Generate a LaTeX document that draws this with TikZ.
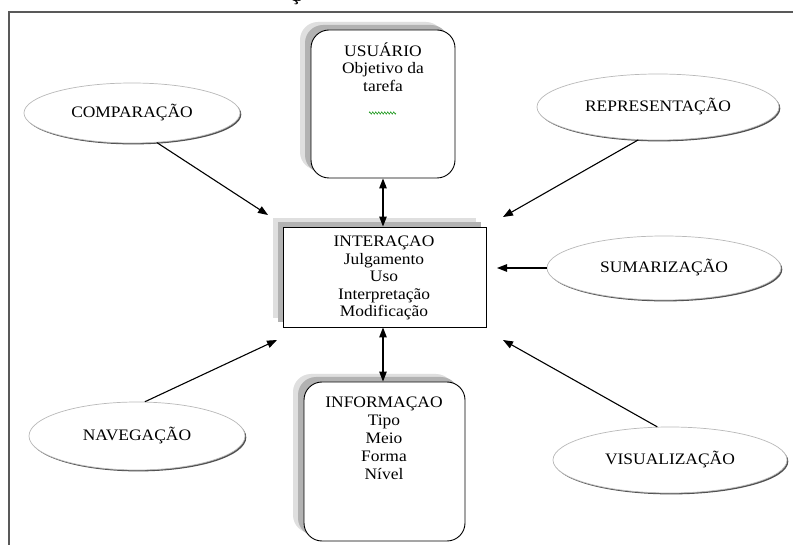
\documentclass[tikz,border=0pt]{standalone}
\usepackage{fontspec}
\setmainfont{Liberation Serif}[FakeStretch=1.09]
\usetikzlibrary{arrows.meta,shapes.geometric,shadows,decorations.pathmorphing}

\begin{document}
\begin{tikzpicture}[x=1pt,y=-1pt,
  every node/.style={font=\fontsize{16}{17.5}\selectfont, text=black},
  topic/.style={ellipse, draw=gray!55, line width=0.7pt, fill=white, inner sep=0pt,
    drop shadow={shadow xshift=1.3pt, shadow yshift=-1.4pt, fill=black!80, opacity=0.85}},
  panel/.style={draw=black, line width=0.9pt, fill=white, rounded corners=18pt, inner sep=0pt,
    general shadow={shadow xshift=-11pt, shadow yshift=8pt, fill=gray!25},
    general shadow={shadow xshift=-6pt, shadow yshift=5pt, fill=gray!60}},
  core/.style={draw=black, line width=0.9pt, fill=white, inner sep=0pt,
    general shadow={shadow xshift=-10pt, shadow yshift=9pt, fill=gray!25},
    general shadow={shadow xshift=-5pt, shadow yshift=5pt, fill=gray!60}},
  link/.style={draw=black, line width=1.1pt, -{Triangle[length=10pt,width=7.5pt]}},
  both/.style={draw=black, line width=1.1pt,
    {Triangle[length=10pt,width=7.5pt]}-{Triangle[length=10pt,width=7.5pt]}},
  frame/.style={draw=black!65, line width=1.4pt}
]
\clip (0,0) rectangle (793,545);
\fill[white] (0,0) rectangle (793,545);

% page frame and the cut heading glyph above it
\node[font=\bfseries\fontsize{16}{16}\selectfont, anchor=base] (head) at (296,1.5) {Ç};
\draw[frame] (9,545) -- (9,12) -- (793,12);

% central boxes
\node[panel, minimum width=144pt, minimum height=148pt] (usu) at (383,104) {};
\node[align=center] (usutxt) at (383,67) {USUÁRIO\\Objetivo da\\tarefa};
\draw[green!55!black, line width=0.5pt, decorate,
  decoration={zigzag, segment length=3pt, amplitude=1.2pt}] (369,113) -- (396,113);

\node[core, minimum width=203pt, minimum height=100pt] (int) at (384.5,277) {};
\node[align=center] (inttxt) at (384,278.3)
  {INTERAÇAO\\Julgamento\\Uso\\Interpretação\\Modificação};

\node[panel, minimum width=161pt, minimum height=159pt] (inf) at (384.5,461.5) {};
\node[align=center, font=\fontsize{16}{18}\selectfont] (inftxt) at (384,438.7)
  {INFORMAÇAO\\Tipo\\Meio\\Forma\\Nível};

% surrounding topics
\node[topic, minimum width=216pt, minimum height=60pt] (comp) at (132,113) {COMPARAÇÃO};
\node[topic, minimum width=242pt, minimum height=66pt] (rep) at (658,107) {REPRESENTAÇÃO};
\node[topic, minimum width=234pt, minimum height=64pt] (sum) at (664,268) {SUMARIZAÇÃO};
\node[topic, minimum width=216pt, minimum height=68pt] (nav) at (137,436) {NAVEGAÇÃO};
\node[topic, minimum width=234pt, minimum height=66pt] (vis) at (670,460) {VISUALIZAÇÃO};

% arrow targets around the interaction box
\coordinate (tComp) at (268,215);
\coordinate (tRep) at (503,217);
\coordinate (tSum) at (497,268);
\coordinate (tNav) at (277,340);
\coordinate (tVis) at (503,340);

\draw[link] (comp.-50) -- (tComp);
\draw[link] (rep.-121) -- (tRep);
\draw[link] (sum.west) -- (tSum);
\draw[link] (nav.77) -- (tNav);
\draw[link] (vis.111) -- (tVis);

\draw[both] (usu.south) -- (usu.south |- int.north);
\draw[both] (int.south -| usu.south) -- (inf.north -| usu.south);
\end{tikzpicture}
\end{document}
